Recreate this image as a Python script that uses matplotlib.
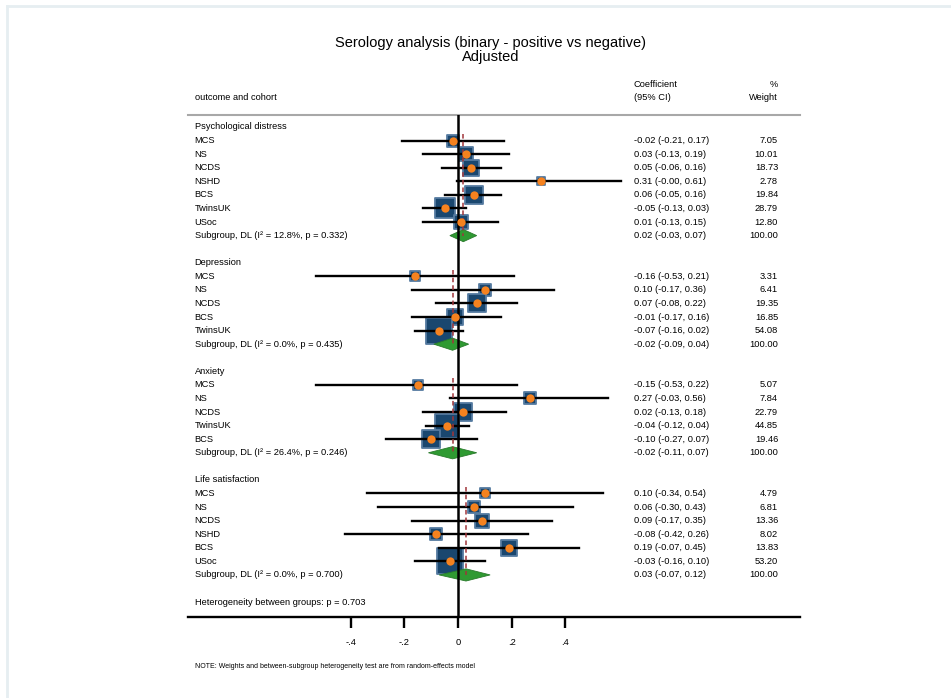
import numpy as np
import matplotlib
matplotlib.use("Agg")
import matplotlib.pyplot as plt
from matplotlib.patches import Polygon

plt.rcParams['font.family'] = ['Liberation Sans', 'DejaVu Sans']

# ---- data -------------------------------------------------------------
groups = ["Psychological distress", "Depression", "Anxiety", "Life satisfaction"]

cohorts = [
    ["MCS", "NS", "NCDS", "NSHD", "BCS", "TwinsUK", "USoc"],
    ["MCS", "NS", "NCDS", "BCS", "TwinsUK"],
    ["MCS", "NS", "NCDS", "TwinsUK", "BCS"],
    ["MCS", "NS", "NCDS", "NSHD", "BCS", "USoc"],
]
coef = [
    [-0.02, 0.03, 0.05, 0.31, 0.06, -0.05, 0.01],
    [-0.16, 0.10, 0.07, -0.01, -0.07],
    [-0.15, 0.27, 0.02, -0.04, -0.10],
    [0.10, 0.06, 0.09, -0.08, 0.19, -0.03],
]
ci_lo = [
    [-0.21, -0.13, -0.06, -0.004, -0.05, -0.13, -0.13],
    [-0.53, -0.17, -0.08, -0.17, -0.16],
    [-0.53, -0.03, -0.13, -0.12, -0.27],
    [-0.34, -0.30, -0.17, -0.42, -0.07, -0.16],
]
ci_hi = [
    [0.17, 0.19, 0.16, 0.61, 0.16, 0.03, 0.15],
    [0.21, 0.36, 0.22, 0.16, 0.02],
    [0.22, 0.56, 0.18, 0.04, 0.07],
    [0.54, 0.43, 0.35, 0.26, 0.45, 0.10],
]
weights = [
    [7.05, 10.01, 18.73, 2.78, 19.84, 28.79, 12.80],
    [3.31, 6.41, 19.35, 16.85, 54.08],
    [5.07, 7.84, 22.79, 44.85, 19.46],
    [4.79, 6.81, 13.36, 8.02, 13.83, 53.20],
]
sub_coef = [0.02, -0.02, -0.02, 0.03]
sub_lo = [-0.03, -0.09, -0.11, -0.07]
sub_hi = [0.07, 0.04, 0.07, 0.12]
sub_i2 = [12.8, 0.0, 26.4, 0.0]
sub_p = [0.332, 0.435, 0.246, 0.700]
het_p = 0.703

xticks = [-0.4, -0.2, 0, 0.2, 0.4]
xticklabels = ["-.4", "-.2", "0", ".2", ".4"]

# ---- colours ----------------------------------------------------------
navy = "#1a476f"
orange = "#f5821f"
green = "#2f9a32"
maroon = "#a0353a"
fs = 6.7


def box_size(w):
    # box side (px) grows with sqrt(weight), converted to scatter area in pt^2
    side_px = 3.6 + 3.07 * np.sqrt(w)
    return (side_px * 0.72) ** 2


fig = plt.figure(figsize=(9.51, 6.98), dpi=100)
ax = fig.add_axes([188 / 951, (698 - 617) / 698, 612 / 951, (617 - 115) / 698])
ax.set_xlim(-1.007, 1.276)
ax.set_ylim(36.1, -0.884)

# border of the graph window
fig.add_artist(plt.Line2D([6.5 / 951, 1], [1 - 5.5 / 698] * 2, color="#e6eef1", lw=2))
fig.add_artist(plt.Line2D([6.5 / 951] * 2, [0, 1 - 5.5 / 698], color="#e6eef1", lw=2))

tx = ax.get_yaxis_transform()
lab_x = 0.011
coef_x = (634 - 188) / 612
wt_x = (778 - 188) / 612

row = 0
for g in range(len(groups)):
    ax.text(lab_x, row, groups[g], transform=tx, fontsize=fs, va="center")
    first = row + 1
    for i, name in enumerate(cohorts[g]):
        r = row + 1 + i
        b, lo, hi, w = coef[g][i], ci_lo[g][i], ci_hi[g][i], weights[g][i]
        ax.scatter([b], [r], marker="s", s=box_size(w), color=navy,
                   edgecolors="#557ba0", linewidths=1.3, zorder=2)
        ax.plot([lo, hi], [r, r], color="black", lw=1.7, zorder=3)
        ax.scatter([b], [r], s=36, color=orange, zorder=5, linewidths=0)
        ax.text(lab_x, r, name, transform=tx, fontsize=fs, va="center")
        ax.text(coef_x, r, f"{b:.2f} ({lo:.2f}, {hi:.2f})", transform=tx,
                fontsize=fs, va="center")
        ax.text(wt_x, r, f"{w:.2f}", transform=tx, fontsize=fs, va="center", ha="right")
    sr = row + 1 + len(cohorts[g])
    ax.vlines(sub_coef[g], first - 0.5, sr, colors=maroon, linestyles=(0, (3, 2)),
              lw=1.1, zorder=4)
    dia = Polygon([[sub_lo[g], sr], [sub_coef[g], sr - 0.45],
                   [sub_hi[g], sr], [sub_coef[g], sr + 0.45]],
                  closed=True, facecolor=green, edgecolor="#2a7a2c", lw=0.6, zorder=3)
    ax.add_patch(dia)
    ax.text(lab_x, sr, f"Subgroup, DL (I\u00b2 = {sub_i2[g]:.1f}%, p = {sub_p[g]:.3f})",
            transform=tx, fontsize=fs, va="center")
    ax.text(coef_x, sr, f"{sub_coef[g]:.2f} ({sub_lo[g]:.2f}, {sub_hi[g]:.2f})",
            transform=tx, fontsize=fs, va="center")
    ax.text(wt_x, sr, "100.00", transform=tx, fontsize=fs, va="center", ha="right")
    row = sr + 2

ax.text(lab_x, row, f"Heterogeneity between groups: p = {het_p:.3f}", transform=tx,
        fontsize=fs, va="center")

ax.axvline(0, color="black", lw=1.8, zorder=3.5)

# header
ax.text(lab_x, -2.15, "outcome and cohort", transform=tx, fontsize=fs, va="center", clip_on=False)
ax.text(coef_x, -3.1, "Coefficient", transform=tx, fontsize=fs, va="center", clip_on=False)
ax.text(coef_x, -2.15, "(95% CI)", transform=tx, fontsize=fs, va="center", clip_on=False)
ax.text(wt_x, -3.1, "%", transform=tx, fontsize=fs, va="center", ha="right", clip_on=False)
ax.text(wt_x, -2.15, "Weight", transform=tx, fontsize=fs, va="center", ha="right", clip_on=False)

for s in ["left", "right"]:
    ax.spines[s].set_visible(False)
ax.spines["top"].set_color("#a8a8a8")
ax.spines["top"].set_linewidth(1.5)
ax.spines["bottom"].set_linewidth(1.7)
ax.set_yticks([])
ax.set_xticks(xticks)
ax.set_xticklabels(xticklabels)
ax.tick_params(axis="x", length=8, width=1.7, pad=7, labelsize=fs)

fig.text(0.516, 1 - 43 / 698, "Serology analysis (binary - positive vs negative)",
         ha="center", va="center", fontsize=10.5)
fig.text(0.516, 1 - 57 / 698, "Adjusted", ha="center", va="center", fontsize=10.5)
fig.text(195 / 951, 1 - 666 / 698,
         "NOTE: Weights and between-subgroup heterogeneity test are from random-effects model",
         ha="left", va="center", fontsize=5.0)

fig.savefig("out.png", dpi=100)
